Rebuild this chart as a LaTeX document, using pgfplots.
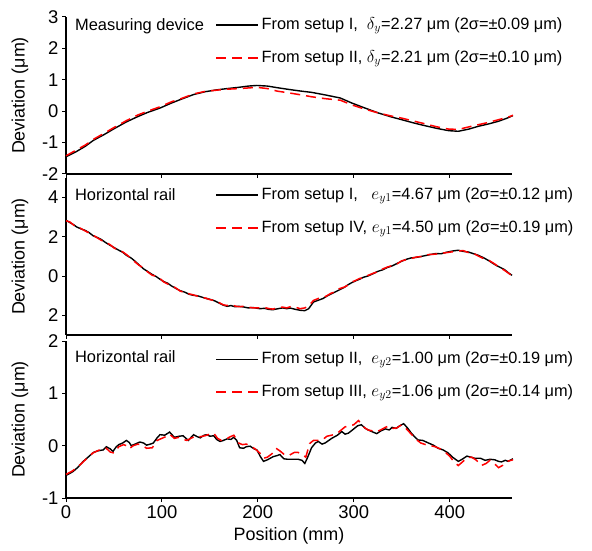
\documentclass[border=0pt]{standalone}
\usepackage{fontspec}
\setmainfont{Liberation Sans}
\usepackage{pgfplots}
\pgfplotsset{compat=1.18}

\tikzset{
  blk/.style={black, line width=1.4bp},
  rd/.style={red, line width=1.5bp, dash pattern=on 10bp off 6bp},
  leg/.style={draw=none, fill=none, inner sep=0pt, row sep=17bp,
    nodes={inner xsep=2.5bp, inner ysep=0pt, text height=12bp, text depth=4bp,
           font=\fontsize{16.4}{18}\selectfont},
    anchor=north west},
  lab/.style={anchor=west, inner sep=0pt, font=\fontsize{16.5}{18}\selectfont},
}
\pgfplotsset{
  panel/.style={
    width=446bp, height=157bp, scale only axis,
    axis lines*=left,
    xmin=0, xmax=465,
    xtick={0,100,200,300,400},
    tick align=outside,
    major tick length=4bp,
    tick style={black, line width=1bp},
    axis line style={line width=1.3bp},
    tick label style={font=\fontsize{18.5}{18}\selectfont},
    /pgf/number format/assume math mode=true,
    ylabel={Deviation (μm)},
    ylabel style={font=\fontsize{18}{18}\selectfont, at={(axis description cs:-0.103,0.5)}, anchor=center},
    legend cell align=left,
    legend image code/.code={\draw[##1] (0bp,0bp) -- (42bp,0bp);},
    clip=false,
  },
}

\begin{document}
\begin{tikzpicture}
\path[use as bounding box] (-66bp,-53bp) rectangle (526bp,498bp);

% ---- top: measuring device
\begin{axis}[panel, at={(0bp,324bp)}, anchor=south west,
  ymin=-2, ymax=3, ytick={-2,-1,0,1,2,3},
  xticklabels={},
  legend style={leg, at={(axis description cs:0.335,1.0)}}]
\addplot[blk] coordinates {
 (0,-1.45) (10,-1.30) (20,-1.12) (28.5,-0.93) (40,-0.74) (50,-0.56) (63,-0.34)
 (75,-0.17) (85,-0.04) (98,0.10) (110,0.26) (120,0.38) (133,0.53) (145,0.62)
 (157,0.68) (168,0.72) (180,0.76) (190,0.80) (199,0.82) (210,0.80) (220,0.75)
 (233,0.69) (245,0.64) (256,0.60) (270,0.52) (286,0.42) (298,0.26) (310,0.12)
 (326,-0.06) (340,-0.19) (350,-0.27) (362,-0.37) (374,-0.46) (387,-0.55)
 (399,-0.62) (409,-0.64) (420,-0.57) (430,-0.48) (440,-0.41) (451,-0.32)
 (460,-0.22) (466,-0.14)};
\addlegendentry{From setup I,\ \ $\delta_y$=2.27 μm (2σ=±0.09 μm)}
\addplot[rd] coordinates {
 (0,-1.42) (10,-1.25) (20,-1.08) (30,-0.87) (40,-0.70) (50,-0.52) (63,-0.30)
 (75,-0.12) (85,0.00) (98,0.14) (110,0.30) (120,0.40) (133,0.55) (145,0.63)
 (157,0.67) (168,0.70) (180,0.72) (190,0.74) (199,0.76) (210,0.72) (220,0.64)
 (233,0.58) (245,0.52) (256,0.46) (270,0.40) (286,0.35) (298,0.20) (310,0.08)
 (326,-0.06) (340,-0.16) (350,-0.22) (362,-0.31) (374,-0.40) (387,-0.50)
 (399,-0.57) (409,-0.58) (420,-0.50) (430,-0.43) (440,-0.36) (451,-0.27)
 (460,-0.20) (466,-0.13)};
\addlegendentry{From setup II, $\delta_y$=2.21 μm (2σ=±0.10 μm)}
\node[lab] at (axis description cs:0.02,0.943) {Measuring device};
\end{axis}

% ---- middle: horizontal rail, e_y1
\begin{axis}[panel, at={(0bp,163bp)}, anchor=south west,
  ymin=-3, ymax=5, ytick={-2,0,2,4}, yticklabels={2,0,2,4},
  xticklabels={},
  legend style={leg, at={(axis description cs:0.335,0.943)}}]
\addplot[blk] coordinates {
 (0,2.85) (4,2.73) (8,2.62) (11,2.51) (15,2.42) (20,2.33) (24,2.22) (28.5,2.05)
 (33,1.96) (37,1.86) (41,1.72) (46,1.57) (50,1.46) (55,1.32) (59,1.22) (63,1.06)
 (68,0.92) (72,0.76) (76,0.58) (80.6,0.38) (85,0.24) (90,0.08) (94,-0.02)
 (98,-0.16) (102,-0.28) (106,-0.36) (110,-0.50) (115,-0.64) (119,-0.74)
 (124,-0.82) (128,-0.92) (133,-0.98) (137,-1.00) (141,-1.06) (146,-1.14)
 (150,-1.18) (155,-1.26) (160,-1.38) (164,-1.48) (168,-1.54) (172,-1.50)
 (176,-1.56) (180,-1.54) (185,-1.57) (190,-1.62) (195,-1.60) (202,-1.66)
 (207,-1.64) (212,-1.70) (216,-1.71) (221,-1.66) (226,-1.62) (230,-1.66)
 (234,-1.63) (239,-1.69) (244,-1.74) (249,-1.76) (253,-1.66) (258,-1.32)
 (263,-1.23) (268,-1.14) (272,-1.02) (276,-0.92) (280.5,-0.81) (285,-0.70)
 (290,-0.58) (294,-0.44) (298,-0.33) (302,-0.24) (306,-0.16) (310,-0.06)
 (315,0.01) (320,0.12) (325,0.24) (330,0.32) (335,0.44) (340,0.52) (345,0.64)
 (350,0.76) (355,0.86) (360,0.93) (366,0.96) (372,1.02) (378,1.08) (385,1.15)
 (391,1.14) (397,1.22) (403,1.28) (409,1.32) (414,1.26) (419.5,1.23)
 (425,1.14) (430,1.06) (436,0.92) (441,0.78) (447,0.59) (452,0.46) (457,0.34)
 (461,0.18) (465,0.04)};
\addlegendentry{From setup I,\ \ \ $e_{y1}$=4.67 μm (2σ=±0.12 μm)}
\addplot[rd] coordinates {
 (0,2.82) (4,2.76) (8,2.60) (11,2.48) (15,2.44) (20,2.30) (24,2.20) (28.5,2.08)
 (33,1.94) (37,1.82) (41,1.74) (46,1.60) (50,1.44) (55,1.30) (59,1.24) (63,1.10)
 (68,0.90) (72,0.72) (76,0.56) (80.6,0.42) (85,0.22) (90,0.04) (94,0.00)
 (98,-0.12) (102,-0.30) (106,-0.40) (110,-0.48) (115,-0.62) (119,-0.76)
 (124,-0.84) (128,-0.90) (133,-0.96) (137,-1.02) (141,-1.10) (146,-1.12)
 (150,-1.20) (155,-1.24) (160,-1.36) (164,-1.46) (168,-1.50) (172,-1.44)
 (176,-1.52) (180,-1.56) (185,-1.54) (190,-1.58) (195,-1.62) (202,-1.62)
 (207,-1.60) (212,-1.66) (216,-1.68) (221,-1.60) (226,-1.58) (230,-1.62)
 (234,-1.56) (239,-1.58) (244,-1.66) (249,-1.62) (253,-1.52) (258,-1.24)
 (263,-1.14) (268,-1.10) (272,-1.00) (276,-0.88) (280.5,-0.80) (285,-0.64)
 (290,-0.56) (294,-0.46) (298,-0.30) (302,-0.22) (306,-0.12) (310,-0.08)
 (315,0.04) (320,0.14) (325,0.22) (330,0.36) (335,0.46) (340,0.54) (345,0.62)
 (350,0.78) (355,0.84) (360,0.90) (366,0.98) (372,1.00) (378,1.10) (385,1.12)
 (391,1.16) (397,1.20) (403,1.24) (409,1.28) (414,1.30) (419.5,1.20)
 (425,1.16) (430,1.02) (436,0.88) (441,0.80) (447,0.62) (452,0.44) (457,0.30)
 (461,0.16) (465,0.02)};
\addlegendentry{From setup IV, $e_{y1}$=4.50 μm (2σ=±0.19 μm)}
\node[lab] at (axis description cs:0.02,0.892) {Horizontal rail};
\end{axis}

% ---- bottom: horizontal rail, e_y2
\begin{axis}[panel, at={(0bp,0bp)}, anchor=south west,
  ymin=-1, ymax=2, ytick={-1,0,1,2},
  xlabel={Position (mm)},
  xlabel style={font=\fontsize{18}{18}\selectfont, at={(axis description cs:0.5,-0.242)}, anchor=center},
  legend style={leg, at={(axis description cs:0.335,0.936)}}]
\addplot[blk] coordinates {
 (0,-0.57) (4,-0.53) (7.6,-0.49) (12,-0.42) (18,-0.30) (23,-0.22) (28.5,-0.13)
 (33,-0.10) (39,-0.08) (42,-0.02) (46,-0.06) (49,-0.11) (52,-0.03) (55,0.02)
 (59,0.05) (63,0.10) (66,0.06) (68,0.00) (72,0.03) (77,0.07) (81,0.05) (84,0.01)
 (88,0.03) (91,0.05) (95,0.15) (98,0.21) (103,0.20) (108,0.26) (113,0.16)
 (118,0.18) (122,0.19) (127.6,0.10) (130,0.15) (133,0.21) (137,0.17) (140,0.15)
 (144,0.20) (147,0.21) (150,0.18) (154,0.19) (157,0.12) (160.6,0.08) (164,0.10)
 (168,0.13) (172,0.12) (175,0.16) (178,0.10) (181,-0.04) (185,-0.05) (188,-0.02)
 (192,-0.01) (196,-0.06) (199,-0.08) (203,-0.22) (206,-0.30) (210,-0.27)
 (216,-0.21) (220,-0.19) (223,-0.17) (227,-0.25) (231,-0.26) (238,-0.26)
 (242,-0.26) (246,-0.28) (249,-0.34) (252,-0.22) (256,-0.04) (260,0.05)
 (263,0.08) (267,0.03) (270,0.05) (274,0.10) (277,0.14) (283,0.20) (287.5,0.27)
 (291,0.22) (294.5,0.24) (300,0.32) (304,0.38) (308,0.40) (312,0.33) (315,0.30)
 (320,0.26) (324,0.23) (328,0.28) (333,0.32) (337,0.30) (340,0.35) (344,0.33)
 (348,0.38) (352,0.42) (356,0.34) (360,0.24) (364,0.16) (367,0.11) (372,0.10)
 (378,0.05) (383,0.01) (388,-0.05) (393,-0.08) (398.5,-0.14) (403,-0.22)
 (409,-0.30) (413,-0.26) (418,-0.20) (422,-0.22) (426,-0.24) (432,-0.24)
 (437,-0.28) (442,-0.26) (447,-0.27) (451,-0.30) (454,-0.31) (458,-0.28)
 (461,-0.30) (466,-0.25)};
\addlegendentry{From setup II,\ \ $e_{y2}$=1.00 μm (2σ=±0.19 μm)}
\addplot[rd] coordinates {
 (0,-0.55) (7,-0.48) (15,-0.36) (22,-0.24) (28,-0.14) (35,-0.08) (42,-0.05)
 (46,-0.12) (50,-0.14) (55,-0.02) (60,0.02) (63,0.00) (66,-0.06) (70,0.00)
 (75,0.03) (80,0.00) (84,-0.05) (90,-0.04) (95,0.10) (100,0.14) (105,0.18)
 (108,0.22) (113,0.14) (118,0.16) (122,0.12) (126,0.10) (130,0.14) (135,0.18)
 (140,0.17) (145,0.19) (150,0.22) (154,0.24) (158,0.14) (162,0.10) (166,0.11)
 (170,0.16) (175,0.20) (180,0.05) (184,0.02) (188,0.03) (192,0.00) (197,-0.06)
 (202,-0.14) (206,-0.24) (210,-0.22) (215,-0.15) (219,-0.05) (223,-0.10)
 (227,-0.16) (232,-0.19) (238,-0.13) (242,-0.13) (246,-0.16) (250,-0.22)
 (254,0.04) (258,0.10) (263,0.10) (268,0.12) (272,0.18) (277,0.20) (283,0.24)
 (287,0.30) (291,0.36) (296,0.38) (300,0.40) (305,0.48) (310,0.36) (315,0.30)
 (320,0.28) (324,0.27) (328,0.30) (333,0.35) (337,0.38) (341,0.33) (345,0.34)
 (350,0.40) (355,0.32) (360,0.22) (365,0.12) (370,0.05) (375,0.02) (380,0.00)
 (385,-0.02) (390,-0.06) (395,-0.12) (400,-0.20) (405,-0.32) (409,-0.38)
 (414,-0.30) (418,-0.23) (423,-0.22) (428,-0.28) (433,-0.38) (438,-0.34)
 (442,-0.28) (447,-0.35) (451,-0.42) (455,-0.38) (460,-0.30) (466,-0.27)};
\addlegendentry{From setup III, $e_{y2}$=1.06 μm (2σ=±0.14 μm)}
\node[lab] at (axis description cs:0.02,0.898) {Horizontal rail};
\end{axis}
\end{tikzpicture}
\end{document}
